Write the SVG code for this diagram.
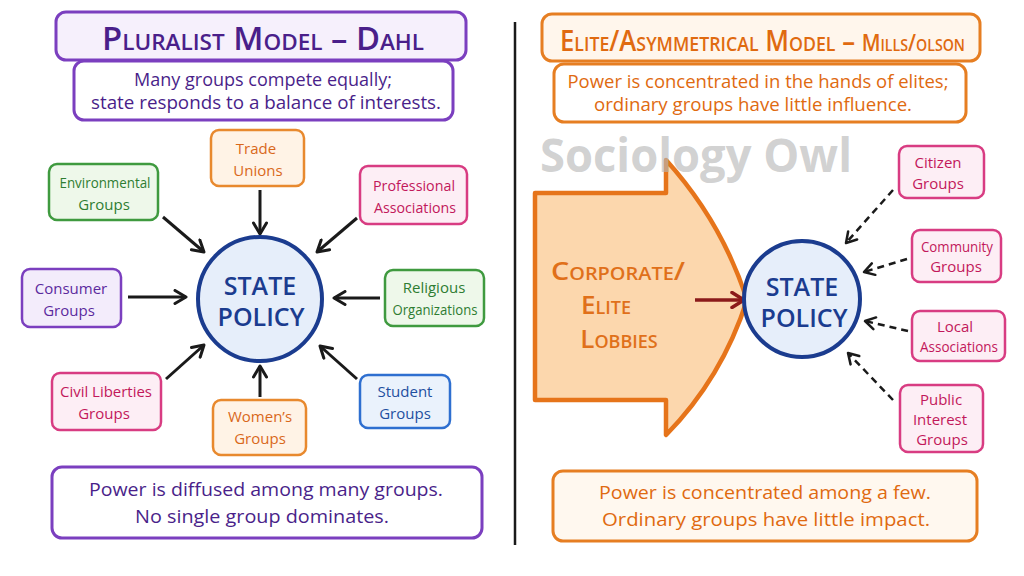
<svg xmlns="http://www.w3.org/2000/svg" width="1024" height="576" viewBox="0 0 1024 576">
<style>
text{font-family:"Open Sans","Liberation Sans",sans-serif;text-anchor:middle}
.g rect{fill:#eef8ea;stroke:#3f9a3f;stroke-width:2.5}
.g text{fill:#2e7d32}
.o rect{fill:#fff3e6;stroke:#e8892e;stroke-width:2.5}
.o text{fill:#d9681a}
.p rect{fill:#fdeef5;stroke:#d83c82;stroke-width:2.5}
.p text{fill:#c2185b}
.v rect{fill:#f3ecfb;stroke:#7b3fbf;stroke-width:2.5}
.v text{fill:#5b2a9e}
.b rect{fill:#eaf2fc;stroke:#2e6fd0;stroke-width:2.5}
.b text{fill:#1e4fa0}
.n text{font-size:15px}
.circ circle{fill:#e6eefa;stroke:#1b3c8f;stroke-width:4}
.circ text{fill:#1b3c8f;font-size:25px;font-weight:600}
.arr{stroke:#1a1a1a;stroke-width:3;fill:none;marker-end:url(#ah)}
.dash{stroke:#1a1a1a;stroke-width:2.5;fill:none;stroke-dasharray:7 5;marker-end:url(#ah2)}
</style>
<defs>
<marker id="ah" markerUnits="userSpaceOnUse" markerWidth="16" markerHeight="16" viewBox="0 0 16 16" refX="14" refY="8" orient="auto">
<path d="M3,1.5 L14,8 L3,14.5" fill="none" stroke="#1a1a1a" stroke-width="3" stroke-linecap="round" stroke-linejoin="round"/>
</marker>
<marker id="ah2" markerUnits="userSpaceOnUse" markerWidth="16" markerHeight="16" viewBox="0 0 16 16" refX="14" refY="8" orient="auto">
<path d="M4,2 L14,8 L4,14" fill="none" stroke="#1a1a1a" stroke-width="2.5" stroke-linecap="round" stroke-linejoin="round"/>
</marker>
<marker id="ahr" markerUnits="userSpaceOnUse" markerWidth="18" markerHeight="18" viewBox="0 0 18 18" refX="16" refY="9" orient="auto">
<path d="M4,1.5 L16,9 L4,16.5" fill="none" stroke="#8b1a1a" stroke-width="3.5" stroke-linecap="round" stroke-linejoin="round"/>
</marker>
</defs>
<rect width="1024" height="576" fill="#ffffff"/>

<!-- divider -->
<line x1="515" y1="22" x2="515" y2="545" stroke="#1a1a1a" stroke-width="2.5"/>

<!-- Left header -->
<g id="left-title">
<rect x="56" y="12" width="410" height="48" rx="10" fill="#f6f0fc" stroke="#7b3fbf" stroke-width="3"/>
<text x="263" y="50" font-size="32" font-weight="600" fill="#4a1f8a" style="font-variant:small-caps" textLength="322" lengthAdjust="spacingAndGlyphs">Pluralist Model – Dahl</text>
</g>
<g id="left-subtitle">
<rect x="74" y="61" width="379" height="59" rx="10" fill="#ffffff" stroke="#7b3fbf" stroke-width="3"/>
<text x="263" y="86" font-size="18" fill="#4a1f8a" textLength="258" lengthAdjust="spacingAndGlyphs">Many groups compete equally;</text>
<text x="266" y="109" font-size="18" fill="#4a1f8a" textLength="350" lengthAdjust="spacingAndGlyphs">state responds to a balance of interests.</text>
</g>

<!-- Right header -->
<g id="right-title">
<rect x="542" y="14" width="438" height="47" rx="10" fill="#fff6ec" stroke="#e67e22" stroke-width="3"/>
<text x="560" y="51" font-size="29" font-weight="600" fill="#e06a10" style="font-variant:small-caps;text-anchor:start" textLength="405" lengthAdjust="spacingAndGlyphs">Elite/Asymmetrical Model – <tspan font-size="23">Mills/olson</tspan></text>
</g>
<g id="right-subtitle">
<rect x="554" y="64" width="412" height="58" rx="10" fill="#ffffff" stroke="#e67e22" stroke-width="3"/>
<text x="758" y="88" font-size="18" fill="#e06a10" textLength="381" lengthAdjust="spacingAndGlyphs">Power is concentrated in the hands of elites;</text>
<text x="753" y="111" font-size="18" fill="#e06a10" textLength="318" lengthAdjust="spacingAndGlyphs">ordinary groups have little influence.</text>
</g>

<!-- Left connectors -->
<g id="left-connectors">
<line class="arr" x1="260" y1="190" x2="260" y2="234"/>
<line class="arr" x1="163" y1="217" x2="204" y2="252"/>
<line class="arr" x1="357" y1="218" x2="317" y2="252"/>
<line class="arr" x1="128" y1="297" x2="186" y2="297"/>
<line class="arr" x1="380" y1="298" x2="334" y2="298"/>
<line class="arr" x1="166" y1="379" x2="204" y2="345"/>
<line class="arr" x1="260" y1="397" x2="260" y2="366"/>
<line class="arr" x1="357" y1="379" x2="320" y2="346"/>
</g>

<!-- Left nodes -->
<g id="left-state-policy" class="circ">
<circle cx="260" cy="299" r="62"/>
<text x="260" y="295">STATE</text>
<text x="261" y="326">POLICY</text>
</g>
<g id="trade-unions" class="n o">
<rect x="211" y="130" width="93" height="56" rx="8"/>
<text x="256" y="154">Trade</text>
<text x="258" y="176">Unions</text>
</g>
<g id="environmental-groups" class="n g">
<rect x="49" y="164" width="109" height="56" rx="8"/>
<text x="105" y="188" textLength="91" lengthAdjust="spacingAndGlyphs">Environmental</text>
<text x="104" y="210">Groups</text>
</g>
<g id="professional-associations" class="n p">
<rect x="360" y="166" width="107" height="58" rx="8"/>
<text x="414" y="191" textLength="82" lengthAdjust="spacingAndGlyphs">Professional</text>
<text x="415" y="213" textLength="82" lengthAdjust="spacingAndGlyphs">Associations</text>
</g>
<g id="consumer-groups" class="n v">
<rect x="22" y="269" width="99" height="58" rx="8"/>
<text x="71" y="294">Consumer</text>
<text x="69" y="316">Groups</text>
</g>
<g id="religious-organizations" class="n g">
<rect x="385" y="270" width="99" height="56" rx="8"/>
<text x="434" y="293">Religious</text>
<text x="435" y="315" textLength="85" lengthAdjust="spacingAndGlyphs">Organizations</text>
</g>
<g id="civil-liberties-groups" class="n p">
<rect x="52" y="373" width="109" height="57" rx="8"/>
<text x="106" y="397" textLength="92" lengthAdjust="spacingAndGlyphs">Civil Liberties</text>
<text x="104" y="419">Groups</text>
</g>
<g id="womens-groups" class="n o">
<rect x="213" y="400" width="93" height="55" rx="8"/>
<text x="260" y="422">Women’s</text>
<text x="260" y="444">Groups</text>
</g>
<g id="student-groups" class="n b">
<rect x="360" y="375" width="90" height="53" rx="8"/>
<text x="405" y="397">Student</text>
<text x="405" y="419">Groups</text>
</g>

<!-- Left bottom -->
<g id="left-summary">
<rect x="52" y="467" width="430" height="71" rx="10" fill="#ffffff" stroke="#7b3fbf" stroke-width="3"/>
<text x="266" y="496" font-size="19" fill="#4a1f8a" textLength="354" lengthAdjust="spacingAndGlyphs">Power is diffused among many groups.</text>
<text x="262" y="523" font-size="19" fill="#4a1f8a" textLength="254" lengthAdjust="spacingAndGlyphs">No single group dominates.</text>
</g>

<!-- Right side -->
<g id="corporate-elite-lobbies">
<path d="M535,193 L666,193 L666,160 Q722,222 747,300 Q722,378 666,435 L666,400 L535,400 Z" fill="#fcd7ad" stroke="#e6741a" stroke-width="4.5" stroke-linejoin="round"/>
<g font-size="26" font-weight="600" fill="#e0701a" style="font-variant:small-caps">
<text x="618" y="280" textLength="134" lengthAdjust="spacingAndGlyphs">Corporate/</text>
<text x="606" y="314">Elite</text>
<text x="619" y="348">Lobbies</text>
</g>
</g>
<text x="696" y="172" font-size="46" font-weight="700" fill="#b8b8b8" fill-opacity="0.65" textLength="312" lengthAdjust="spacingAndGlyphs">Sociology Owl</text>

<g id="right-connectors">
<line x1="695" y1="300" x2="744" y2="300" stroke="#8b1a1a" stroke-width="3.5" marker-end="url(#ahr)"/>
<line class="dash" x1="893" y1="190" x2="846" y2="243"/>
<line class="dash" x1="907" y1="259" x2="864" y2="272"/>
<line class="dash" x1="908" y1="331" x2="865" y2="321"/>
<line class="dash" x1="893" y1="400" x2="848" y2="353"/>
</g>

<g id="right-state-policy" class="circ">
<circle cx="802" cy="299" r="58"/>
<text x="802" y="296">STATE</text>
<text x="804" y="327">POLICY</text>
</g>
<g id="citizen-groups" class="n p">
<rect x="899" y="146" width="85" height="52" rx="8"/>
<text x="938" y="168">Citizen</text>
<text x="938" y="189">Groups</text>
</g>
<g id="community-groups" class="n p">
<rect x="912" y="230" width="89" height="52" rx="8"/>
<text x="957" y="252" textLength="72" lengthAdjust="spacingAndGlyphs">Community</text>
<text x="956" y="272">Groups</text>
</g>
<g id="local-associations" class="n p">
<rect x="912" y="311" width="93" height="50" rx="8"/>
<text x="955" y="332">Local</text>
<text x="959" y="352" textLength="78" lengthAdjust="spacingAndGlyphs">Associations</text>
</g>
<g id="public-interest-groups" class="n p">
<rect x="900" y="385" width="83" height="67" rx="8"/>
<text x="941" y="405">Public</text>
<text x="940" y="425">Interest</text>
<text x="942" y="445">Groups</text>
</g>

<g id="right-summary">
<rect x="553" y="471" width="424" height="70" rx="10" fill="#fff8ef" stroke="#e67e22" stroke-width="3"/>
<text x="765" y="499" font-size="19" fill="#e06a10" textLength="332" lengthAdjust="spacingAndGlyphs">Power is concentrated among a few.</text>
<text x="766" y="526" font-size="19" fill="#e06a10" textLength="328" lengthAdjust="spacingAndGlyphs">Ordinary groups have little impact.</text>
</g>
</svg>
